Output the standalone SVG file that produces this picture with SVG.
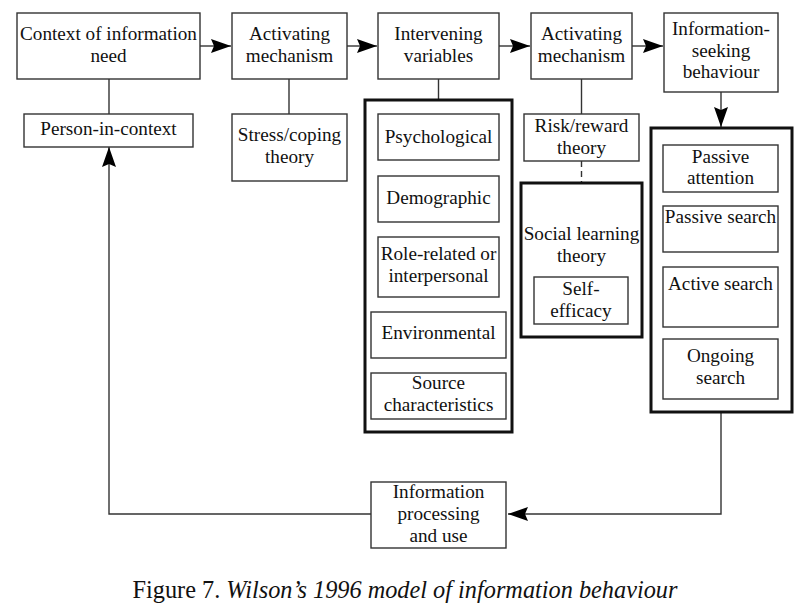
<svg xmlns="http://www.w3.org/2000/svg" width="810" height="609" viewBox="0 0 810 609">
<style>
.b{fill:#fff;stroke:#333;stroke-width:1.4}
.k{fill:none;stroke:#111;stroke-width:3}
.t{font-size:19.2px;fill:#111;text-anchor:middle}
.l{fill:none;stroke:#333;stroke-width:1.4}
.cap{font-size:24.3px;fill:#111}
</style>
<defs>
<marker id="ah" viewBox="0 0 20 14" refX="20" refY="7" markerWidth="20" markerHeight="14" markerUnits="userSpaceOnUse" orient="auto">
<path d="M0,0 L20,7 L0,14 L3,7 Z" fill="#000"/>
</marker>
</defs>
<rect width="810" height="609" fill="#fff"/>
<g id="connectors">
<line class="l" x1="200" y1="46" x2="231" y2="46" marker-end="url(#ah)"/>
<line class="l" x1="347" y1="46" x2="377" y2="46" marker-end="url(#ah)"/>
<line class="l" x1="499" y1="46" x2="530" y2="46" marker-end="url(#ah)"/>
<line class="l" x1="632" y1="46" x2="663" y2="46" marker-end="url(#ah)"/>
<line class="l" x1="721" y1="92" x2="721" y2="127" marker-end="url(#ah)"/>
<line class="l" x1="109" y1="79" x2="109" y2="114"/>
<line class="l" x1="289" y1="79" x2="289" y2="114"/>
<line class="l" x1="438.5" y1="79" x2="438.5" y2="100"/>
<line class="l" x1="581.5" y1="79" x2="581.5" y2="114"/>
<line class="l" x1="581.5" y1="161" x2="581.5" y2="183" stroke-dasharray="6,4"/>
<polyline class="l" points="721,412 721,514 508,514" marker-end="url(#ah)"/>
<polyline class="l" points="371,514 109,514 109,147" marker-end="url(#ah)"/>
</g>
<g font-family="Liberation Serif, Times New Roman, serif">
<g id="context">
<rect class="b" x="17" y="13" width="183" height="66"/>
<text class="t" x="108.5" y="40">Context of information</text>
<text class="t" x="108.5" y="62">need</text>
</g>
<g id="activating1">
<rect class="b" x="232" y="13" width="115" height="66"/>
<text class="t" x="289.5" y="40">Activating</text>
<text class="t" x="289.5" y="62">mechanism</text>
</g>
<g id="intervening">
<rect class="b" x="378" y="13" width="121" height="66"/>
<text class="t" x="438.5" y="40">Intervening</text>
<text class="t" x="438.5" y="62">variables</text>
</g>
<g id="activating2">
<rect class="b" x="531" y="13" width="101" height="66"/>
<text class="t" x="581.5" y="40">Activating</text>
<text class="t" x="581.5" y="62">mechanism</text>
</g>
<g id="infoseeking">
<rect class="b" x="664" y="13" width="114" height="79"/>
<text class="t" x="721" y="35">Information-</text>
<text class="t" x="721" y="57">seeking</text>
<text class="t" x="721" y="78">behaviour</text>
</g>
<g id="person">
<rect class="b" x="24" y="114" width="169" height="33"/>
<text class="t" x="108.5" y="135">Person-in-context</text>
</g>
<g id="stress">
<rect class="b" x="232" y="114" width="115" height="67"/>
<text class="t" x="289.5" y="141">Stress/coping</text>
<text class="t" x="289.5" y="163">theory</text>
</g>
<g id="variables">
<rect class="k" x="365" y="100" width="147" height="332"/>
<g id="psychological">
<rect class="b" x="378" y="114" width="121" height="46"/>
<text class="t" x="438.5" y="143">Psychological</text>
</g>
<g id="demographic">
<rect class="b" x="378" y="176" width="121" height="46"/>
<text class="t" x="438.5" y="204">Demographic</text>
</g>
<g id="role">
<rect class="b" x="378" y="237" width="121" height="60"/>
<text class="t" x="438.5" y="260">Role-related or</text>
<text class="t" x="438.5" y="282">interpersonal</text>
</g>
<g id="environmental">
<rect class="b" x="371" y="312" width="135" height="46"/>
<text class="t" x="438.5" y="339">Environmental</text>
</g>
<g id="source">
<rect class="b" x="371" y="373" width="135" height="46"/>
<text class="t" x="438.5" y="389">Source</text>
<text class="t" x="438.5" y="411">characteristics</text>
</g>
</g>
<g id="risk">
<rect class="b" x="524" y="114" width="115" height="47"/>
<text class="t" x="581.5" y="132">Risk/reward</text>
<text class="t" x="581.5" y="154">theory</text>
</g>
<g id="social">
<rect class="k" x="521" y="183" width="121" height="154"/>
<text class="t" x="581.5" y="240">Social learning</text>
<text class="t" x="581.5" y="262">theory</text>
<g id="selfefficacy">
<rect class="b" x="534" y="277" width="94" height="47"/>
<text class="t" x="581" y="295">Self-</text>
<text class="t" x="581" y="317">efficacy</text>
</g>
</g>
<g id="modes">
<rect class="k" x="651" y="128" width="141" height="284"/>
<g id="passiveattention">
<rect class="b" x="663" y="145" width="115" height="47"/>
<text class="t" x="720.5" y="163">Passive</text>
<text class="t" x="720.5" y="184">attention</text>
</g>
<g id="passivesearch">
<rect class="b" x="663" y="206" width="115" height="46"/>
<text class="t" x="720.5" y="223">Passive search</text>
</g>
<g id="activesearch">
<rect class="b" x="663" y="267" width="115" height="60"/>
<text class="t" x="720.5" y="290">Active search</text>
</g>
<g id="ongoing">
<rect class="b" x="663" y="339" width="115" height="60"/>
<text class="t" x="720.5" y="362">Ongoing</text>
<text class="t" x="720.5" y="384">search</text>
</g>
</g>
<g id="processing">
<rect class="b" x="371" y="482" width="135" height="66"/>
<text class="t" x="438.5" y="498">Information</text>
<text class="t" x="438.5" y="520">processing</text>
<text class="t" x="438.5" y="542">and use</text>
</g>
<text class="cap" x="405" y="598" text-anchor="middle">Figure 7. <tspan font-style="italic">Wilson’s 1996 model of information behaviour</tspan></text>
</g>
</svg>
